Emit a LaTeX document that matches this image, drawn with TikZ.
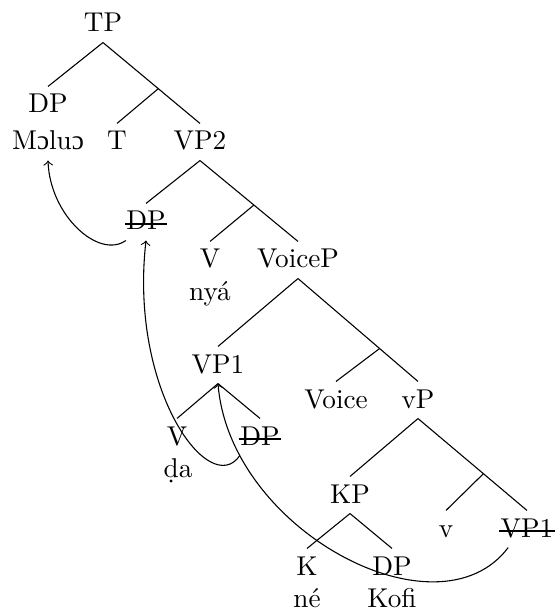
\documentclass[tikz,border=0pt]{standalone}
\usepackage{fontspec}
\newfontfamily\ipafont{Liberation Serif}
\usetikzlibrary{calc}
\begin{document}
\begin{tikzpicture}[x=0.3676pt,y=-0.3676pt,
  tn/.style={inner sep=0pt,text height=9.56pt,text depth=3.68pt,anchor=base},
  br/.style={line width=0.4pt},
  strike/.style={line width=0.4pt},
  mv/.style={->,line width=0.4pt}]
\useasboundingbox (0,0) rectangle (555,614);
% nodes
\node[tn] (TP) at (103,32) {TP};
\node[tn] (DPa) at (48,113) {DP};
\node[tn] (Moluo) at (48,150) {M{\ipafont ɔ}lu{\ipafont ɔ}};
\node[tn] (T) at (117,150) {T};
\node[tn] (VP2) at (200,150) {VP2};
\node[tn] (DPs) at (146,230) {DP};
\node[tn] (Va) at (210,268) {V};
\node[tn] (nya) at (210,301) {nyá};
\node[tn] (VoiceP) at (298,268) {VoiceP};
\node[tn] (VP1) at (218,373) {VP1};
\node[tn] (Voice) at (336,408) {Voice};
\node[tn] (vP) at (418,408) {vP};
\node[tn] (Vb) at (177,445) {V};
\node[tn] (da) at (178,477) {ḍa};
\node[tn] (DPt) at (260,445) {DP};
\node[tn] (KP) at (350,503) {KP};
\node[tn] (v) at (446,537) {v};
\node[tn] (VP1s) at (527,537) {VP1};
\node[tn] (K) at (307,575) {K};
\node[tn] (ne) at (307,607) {né};
\node[tn] (DPk) at (392,575) {DP};
\node[tn] (Kofi) at (392,607) {Kofi};
% strike-through of copies
\foreach \n in {DPs,DPt,VP1s}
  \draw[strike] ($(\n.base west)+(-1,-6)$) -- ($(\n.base east)+(1,-6)$);
% bar points
\coordinate (b1) at ($(TP.south)!0.57!(VP2.north)$);
\coordinate (b2) at ($(VP2.south)!0.55!(VoiceP.north)$);
\coordinate (b3) at ($(VoiceP.south)!0.68!(vP.north)$);
\coordinate (b4) at ($(vP.south)!0.6!(VP1s.north)$);
% branches
\draw[br] (TP.south) -- (DPa.north);
\draw[br] (TP.south) -- (b1) -- (VP2.north);
\draw[br] (b1) -- (T.north);
\draw[br] (VP2.south) -- (DPs.north);
\draw[br] (VP2.south) -- (b2) -- (VoiceP.north);
\draw[br] (b2) -- (Va.north);
\draw[br] (VoiceP.south) -- (VP1.north);
\draw[br] (VoiceP.south) -- (b3) -- (vP.north);
\draw[br] (b3) -- (Voice.north);
\draw[br] (VP1.south) -- (Vb.north);
\draw[br] (VP1.south) -- (DPt.north);
\draw[br] (vP.south) -- (KP.north);
\draw[br] (vP.south) -- (b4) -- (VP1s.north);
\draw[br] (b4) -- (v.north);
\draw[br] (KP.south) -- (K.north);
\draw[br] (KP.south) -- (DPk.north);
% movement arrows
\draw[mv] (DPs.south west) .. controls +(-27,19) and +(2,55) .. (Moluo.south);
\draw[mv] (DPt.south west) .. controls +(-30,44) and +(-17,150) .. (DPs.south);
\draw[mv] ($(VP1s.south west)+(8,0)$) .. controls +(-70,93) and +(12,147) .. (VP1.south);
\end{tikzpicture}
\end{document}
